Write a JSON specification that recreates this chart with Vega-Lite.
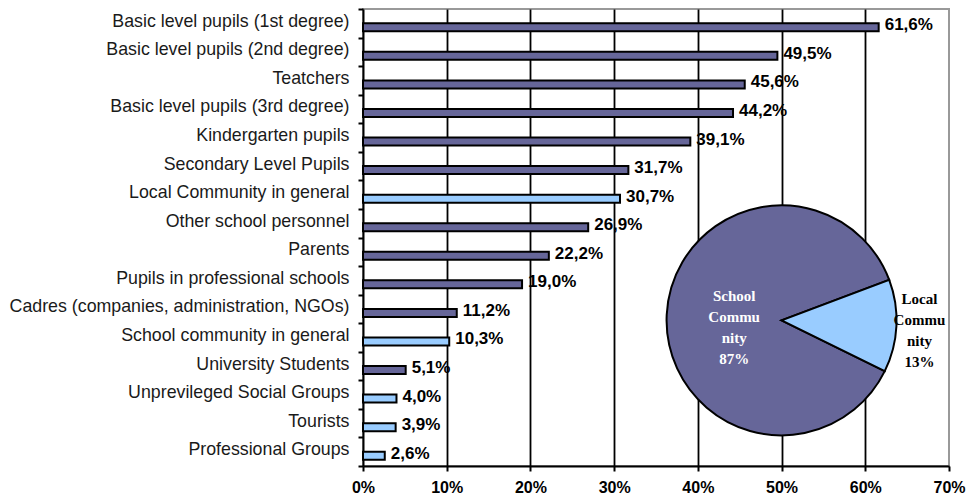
{
  "$schema": "https://vega.github.io/schema/vega-lite/v6.json",
  "width": 586,
  "height": 457,
  "autosize": "none",
  "padding": {"left": 363, "top": 9, "right": 21, "bottom": 38},
  "background": "white",
  "config": {
    "locale": {"number": {"decimal": ",", "thousands": ".", "grouping": [3], "currency": ["", " €"]}},
    "view": {"stroke": "#999999", "strokeWidth": 2},
    "font": "Liberation Sans"
  },
  "datasets": {
    "bars": [
      {"audience": "Basic level pupils (1st degree)", "share": 0.616, "group": "School Community"},
      {"audience": "Basic level pupils (2nd degree)", "share": 0.495, "group": "School Community"},
      {"audience": "Teatchers", "share": 0.456, "group": "School Community"},
      {"audience": "Basic level pupils (3rd degree)", "share": 0.442, "group": "School Community"},
      {"audience": "Kindergarten pupils", "share": 0.391, "group": "School Community"},
      {"audience": "Secondary Level Pupils", "share": 0.317, "group": "School Community"},
      {"audience": "Local Community in general", "share": 0.307, "group": "Local Community"},
      {"audience": "Other school personnel", "share": 0.269, "group": "School Community"},
      {"audience": "Parents", "share": 0.222, "group": "School Community"},
      {"audience": "Pupils in professional schools", "share": 0.19, "group": "School Community"},
      {"audience": "Cadres (companies, administration, NGOs)", "share": 0.112, "group": "School Community"},
      {"audience": "School community in general", "share": 0.103, "group": "Local Community"},
      {"audience": "University Students", "share": 0.051, "group": "School Community"},
      {"audience": "Unprevileged Social Groups", "share": 0.04, "group": "Local Community"},
      {"audience": "Tourists", "share": 0.039, "group": "Local Community"},
      {"audience": "Professional Groups", "share": 0.026, "group": "Local Community"}
    ],
    "pie": [
      {"group": "School Community", "share": 0.87, "label": "School\nCommu\nnity\n87%"},
      {"group": "Local Community", "share": 0.13, "label": "Local\nCommu\nnity\n13%"}
    ]
  },
  "layer": [
    {
      "data": {"name": "bars"},
      "mark": {"type": "bar", "height": 8, "yOffset": 4, "stroke": "black", "strokeWidth": 2},
      "encoding": {
        "y": {
          "field": "audience", "type": "nominal", "sort": null,
          "scale": {"paddingInner": 0, "paddingOuter": 0},
          "axis": {
            "title": null, "tickBand": "extent", "tickSize": 5, "tickColor": "black", "tickWidth": 2,
            "domainColor": "black", "domainWidth": 2, "labelFontSize": 17.8, "labelColor": "#1a1a1a",
            "labelPadding": 9, "labelOffset": -2, "labelLimit": 400, "grid": false
          }
        },
        "x": {
          "field": "share", "type": "quantitative",
          "scale": {"domain": [0, 0.7], "nice": false},
          "axis": {
            "title": null, "values": [0, 0.1, 0.2, 0.3, 0.4, 0.5, 0.6, 0.7], "format": ".0%",
            "labelFontSize": 16, "labelFontWeight": "bold", "labelColor": "black", "labelFlush": false,
            "tickSize": 5, "tickColor": "black", "tickWidth": 2, "domainColor": "black", "domainWidth": 2,
            "labelPadding": 8, "grid": true, "gridColor": "black", "gridWidth": 1.8,
            "gridOpacity": {"condition": {"test": "datum.value <= 0 || datum.value >= 0.69", "value": 0}, "value": 1}
          }
        },
        "color": {
          "field": "group", "type": "nominal",
          "scale": {"domain": ["School Community", "Local Community"], "range": ["#666699", "#99ccff"]},
          "legend": null
        }
      }
    },
    {
      "data": {"name": "bars"},
      "mark": {"type": "text", "align": "left", "baseline": "middle", "dx": 6, "dy": 2, "fontSize": 17, "fontWeight": "bold", "color": "black"},
      "encoding": {
        "y": {"field": "audience", "type": "nominal", "sort": null},
        "x": {"field": "share", "type": "quantitative"},
        "text": {"field": "share", "type": "quantitative", "format": ".1%"}
      }
    },
    {
      "data": {"name": "pie"},
      "encoding": {
        "theta": {"field": "share", "type": "quantitative", "stack": true, "scale": {"range": [1.2113, 7.4945]}},
        "x": {"datum": 0.5, "type": "quantitative"},
        "y": {"datum": "Cadres (companies, administration, NGOs)", "type": "nominal", "bandPosition": 0.9}
      },
      "layer": [
        {
          "mark": {"type": "arc", "radius": 115, "stroke": "black", "strokeWidth": 2},
          "encoding": {"color": {"field": "group", "type": "nominal", "legend": null}}
        },
        {
          "mark": {"type": "text", "radius": 47.5, "dy": -22, "align": "center", "baseline": "middle", "fill": "white", "font": "Liberation Serif", "fontWeight": "bold", "fontSize": 15, "lineHeight": 21, "lineBreak": "\n"},
          "encoding": {
            "text": {"field": "label", "type": "nominal"},
            "opacity": {"condition": {"test": "datum.group === 'School Community'", "value": 1}, "value": 0}
          }
        },
        {
          "mark": {"type": "text", "radius": 138, "dy": -28, "align": "center", "baseline": "middle", "fill": "black", "font": "Liberation Serif", "fontWeight": "bold", "fontSize": 15, "lineHeight": 21, "lineBreak": "\n"},
          "encoding": {
            "text": {"field": "label", "type": "nominal"},
            "opacity": {"condition": {"test": "datum.group === 'Local Community'", "value": 1}, "value": 0}
          }
        }
      ]
    }
  ]
}
